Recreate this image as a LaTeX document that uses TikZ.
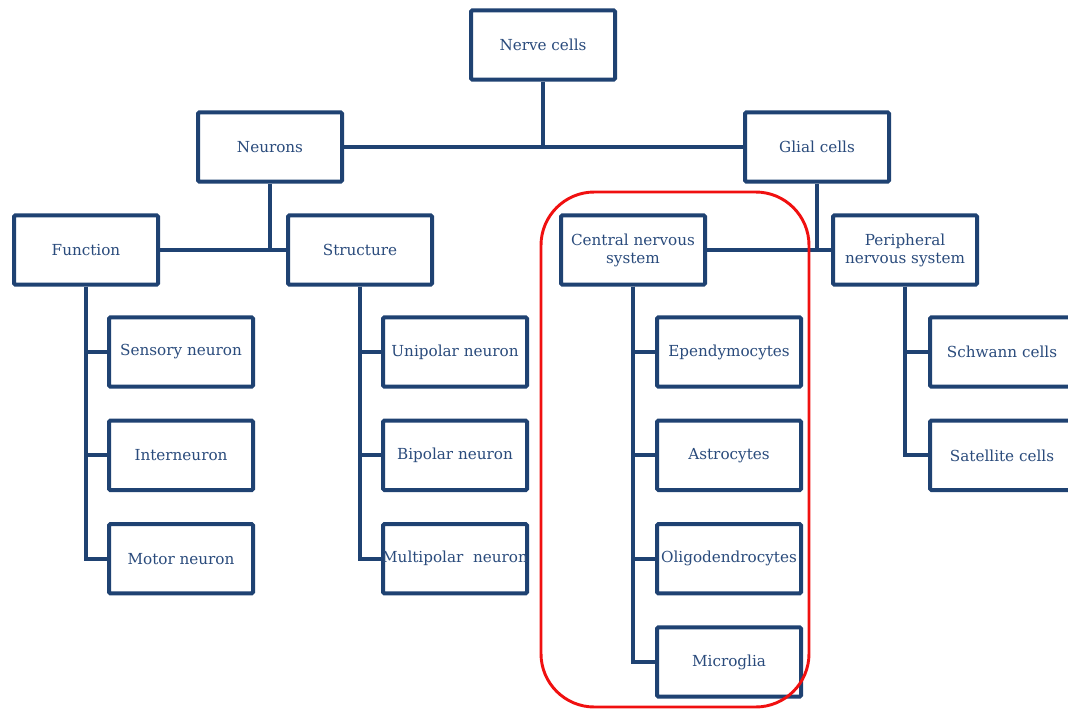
\documentclass[tikz,border=0pt]{standalone}
\usepackage{fontspec}
\usepackage{tikz}
\usepackage{xcolor}
\usetikzlibrary{positioning}
\setmainfont{DejaVu Serif}
\definecolor{NCBlue}{HTML}{1F4272}
\definecolor{NCText}{HTML}{2A4B7C}
\definecolor{NCRed}{HTML}{F01010}

\begin{document}
\begin{tikzpicture}[
    x=0.75pt, y=-0.75pt,
    node distance=22.5pt and 0.7cm,
    every node/.style={font=\fontsize{11.4}{13.5}\selectfont, text=NCText, align=center, inner sep=1pt},
    box/.style={draw=NCBlue, line width=3pt, fill=white, rounded corners=1pt, minimum width=108pt, minimum height=52pt},
    link/.style={draw=NCBlue, line width=3pt}
  ]
    \useasboundingbox (0,0) rectangle (1068,711);
    \clip (0,0) rectangle (1068,711);

    % top levels
    \node[box] (nerve) at (543,45) {Nerve cells};
    \node[box] (neurons) at (270,147) {Neurons};
    \node[box] (glial) at (817,147) {Glial cells};
    \node[box] (function) at (86,250) {Function};
    \node[box] (structure) at (360,250) {Structure};
    \node[box] (cns) at (633,250) {Central nervous\\system};
    \node[box] (pns) at (905,250) {Peripheral\\nervous system};

    % leaves
    \node[box] (sensory) at (181,352) {Sensory neuron};
    \node[box, below=of sensory] (inter) {Interneuron};
    \node[box, below=of inter] (motor) {Motor neuron};
    \node[box] (unipolar) at (455,352) {Unipolar neuron};
    \node[box, below=of unipolar] (bipolar) {Bipolar neuron};
    \node[box, below=of bipolar] (multipolar) {\makebox[100pt]{Multipolar~~neuron}};
    \node[box] (ependymo) at (729,352) {Ependymocytes};
    \node[box, below=of ependymo] (astro) {Astrocytes};
    \node[box, below=of astro] (oligo) {Oligodendrocytes};
    \node[box, below=of oligo] (micro) {Microglia};
    \node[box] (schwann) at (1002,352) {Schwann cells};
    \node[box, below=of schwann] (satellite) {Satellite cells};

    \coordinate (topjoin) at (nerve.south |- neurons.east);
    \coordinate (nrjoin) at (neurons.south |- function.east);
    \coordinate (gljoin) at (glial.south |- cns.east);

    \draw[link] (neurons.east) -- (glial.west);
    \draw[link] (nerve.south) -- (topjoin);
    \draw[link] (function.east) -- (structure.west);
    \draw[link] (neurons.south) -- (nrjoin);
    \draw[link] (cns.east) -- (pns.west);
    \draw[link] (glial.south) -- (gljoin);
    \foreach \leaf in {sensory, inter, motor}
      \draw[link] (function.south) |- (\leaf.west);
    \foreach \leaf in {unipolar, bipolar, multipolar}
      \draw[link] (structure.south) |- (\leaf.west);
    \foreach \leaf in {ependymo, astro, oligo, micro}
      \draw[link] (cns.south) |- (\leaf.west);
    \foreach \leaf in {schwann, satellite}
      \draw[link] (pns.south) |- (\leaf.west);

    % highlight of the CNS branch
    \draw[NCRed, line width=2.2pt, rounded corners=40pt] (541,192) rectangle (809,707);
  \end{tikzpicture}
\end{document}
